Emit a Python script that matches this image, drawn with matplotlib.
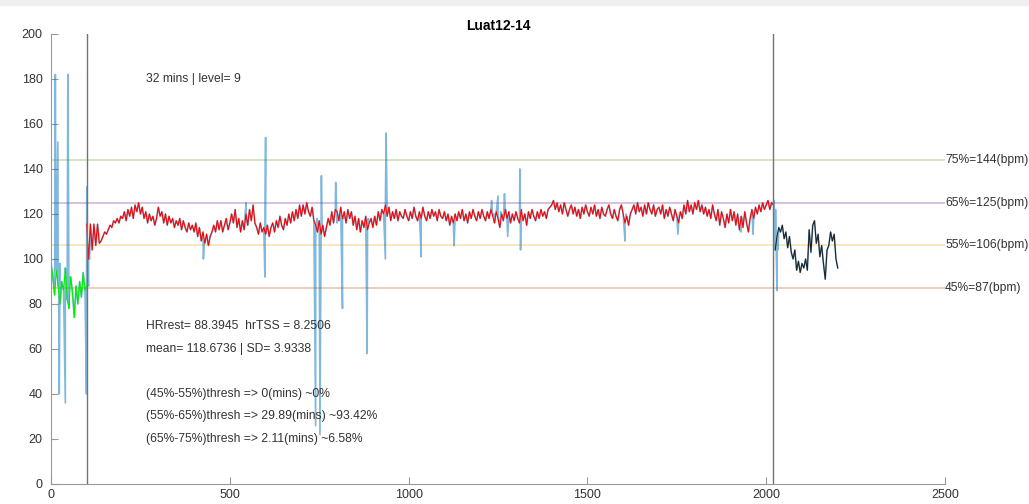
import numpy as np
import matplotlib
matplotlib.use("Agg")
import matplotlib.pyplot as plt

plt.rcParams["font.family"] = ["Liberation Sans", "DejaVu Sans"]

# heart rate per 5 s sample
warmup_t = np.arange(0, 101, 5)
warmup_hr = [98, 92, 84, 95, 88, 80, 90, 86, 96, 82, 78, 92, 85, 74, 88, 80, 90, 83, 94, 86, 88]

main_t = np.arange(100, 2021, 5)
main_hr = [
    115.5, 100, 115.5, 104, 115.5, 106, 115.5, 107, 108, 110, 112, 111, 113, 115, 114, 117, 116, 118, 116, 119,
    118, 121, 117, 122, 119, 123, 118, 124, 121, 125, 120, 123, 118, 121, 116, 120, 117, 119, 115, 118,
    123, 119, 121, 116, 120, 115, 119, 116, 118, 114, 117, 115, 118, 113, 117, 114, 112, 116, 113, 115,
    112, 116, 110, 114, 108, 112, 107, 111, 106, 110, 112, 115, 112, 117, 113, 117, 112, 115, 118, 113,
    116, 120, 116, 122, 114, 118, 112, 117, 113, 120, 115, 122, 117, 124, 116, 114, 111, 116, 112, 114,
    111, 115, 110, 114, 116, 112, 117, 114, 119, 115, 113, 118, 115, 120, 116, 121, 117, 122, 118, 124,
    119, 124, 120, 125, 121, 119, 123, 117, 115, 112, 117, 111, 115, 110, 114, 118, 115, 121, 116, 122,
    121, 117, 123, 118, 121, 116, 122, 118, 121, 115, 119, 113, 118, 112, 117, 114, 119, 113, 116, 118,
    114, 119, 115, 121, 117, 122, 120, 124, 119, 123, 117, 121, 118, 122, 117, 121, 119, 118, 122, 119,
    117, 121, 118, 123, 119, 117, 121, 118, 123, 119, 117, 121, 118, 122, 119, 121, 117, 122, 119, 118,
    121, 117, 120, 115, 119, 116, 120, 117, 121, 118, 122, 117, 120, 116, 121, 118, 122, 119, 117, 121,
    118, 122, 119, 117, 121, 118, 122, 119, 116, 121, 118, 114, 120, 117, 122, 118, 121, 116, 120, 117,
    121, 118, 116, 122, 117, 120, 115, 121, 118, 122, 119, 117, 121, 118, 122, 119, 121, 118, 122, 123,
    124, 126, 122, 125, 121, 124, 120, 125, 122, 119, 122, 124, 120, 123, 119, 122, 118, 123, 120, 124,
    121, 119, 123, 120, 124, 119, 122, 118, 123, 120, 119, 122, 124, 120, 118, 122, 119, 117, 122, 124,
    120, 116, 119, 115, 120, 122, 124, 120, 125, 121, 123, 119, 124, 120, 125, 122, 120, 124, 119, 122,
    123, 120, 124, 118, 122, 119, 123, 120, 117, 122, 119, 116, 121, 118, 124, 120, 126, 121, 124, 120,
    125, 122, 126, 121, 124, 120, 123, 119, 122, 118, 124, 120, 117, 122, 115, 121, 118, 114, 120, 116,
    122, 117, 121, 115, 120, 113, 119, 114, 121, 116, 112, 118, 122, 118, 123, 120, 124, 121, 125, 122,
    124, 126, 122, 125, 124,
]

cooldown_t = np.arange(2025, 2201, 5)
cooldown_hr = [104, 110, 114, 112, 115, 109, 112, 105, 110, 103, 100, 104, 95, 99, 94, 98, 96, 100,
               95, 113, 103, 115, 117, 107, 111, 101, 106, 98, 91, 104, 106, 112, 108, 111, 100, 96]

# raw sensor glitches that the filter removed
spike_t = [0, 12, 14, 19, 21, 23, 25, 40, 43, 47, 49, 51, 99, 100, 102, 105, 108,
           426, 429, 545, 547, 598, 600, 602, 740, 744, 752, 756, 758, 796, 800, 815, 818,
           884, 887, 935, 937, 940, 1035, 1038, 1127, 1130,
           1232, 1240, 1250, 1258, 1268, 1272, 1277, 1280, 1311, 1313, 1316,
           1605, 1608, 1753, 1756, 1930, 1933, 1963, 1966, 2022, 2026, 2030, 2033]
spike_hr = [0, 182, 100, 152, 98, 40, 98, 36, 90, 182, 126, 92, 40, 132, 95, 88, 100,
            100, 108, 125, 117, 92, 154, 114, 26, 118, 22, 137, 112, 134, 116, 78, 118,
            58, 118, 100, 156, 120, 101, 121, 106, 118,
            126, 120, 128, 121, 129, 122, 110, 119, 140, 104, 118,
            108, 120, 111, 119, 112, 118, 111, 120, 126, 122, 86, 104]

zone_pct = [45, 55, 65, 75]
zone_bpm = [87, 106, 125, 144]
zone_colors = [(0.85, 0.325, 0.098), (0.929, 0.694, 0.125), (0.494, 0.184, 0.556), (0.466, 0.674, 0.188)]

phase_marks = [100, 2019]

info_lines = [
    (180, "32 mins | level= 9"),
    (70, "HRrest= 88.3945  hrTSS = 8.2506"),
    (60, "mean= 118.6736 | SD= 3.9338"),
    (40, "(45%-55%)thresh => 0(mins) ~0%"),
    (30, "(55%-65%)thresh => 29.89(mins) ~93.42%"),
    (20, "(65%-75%)thresh => 2.11(mins) ~6.58%"),
]

# raw trace = all samples plus glitches, ordered by time
raw_t = np.concatenate([spike_t, warmup_t, main_t[1:], cooldown_t])
raw_hr = np.concatenate([spike_hr, warmup_hr, main_hr[1:], cooldown_hr])
order = np.argsort(raw_t, kind="stable")
raw_t, raw_hr = raw_t[order], raw_hr[order]

fig = plt.figure(figsize=(10.29, 5.04), dpi=100)
fig.patches.append(plt.Rectangle((0, 0.99), 1, 0.01, transform=fig.transFigure,
                                 color="#f0f0f0", zorder=0))
ax = fig.add_axes([0.0496, 0.0397, 0.8688, 0.8929])

for bpm, pct, c in zip(zone_bpm, zone_pct, zone_colors):
    ax.axhline(bpm, color=c, alpha=0.35, lw=1.2, zorder=1)
    ax.text(2500, bpm, "%d%%=%d(bpm)" % (pct, bpm), ha="left", va="center",
            fontsize=8.7, color="0.2", clip_on=False)

ax.plot(raw_t, raw_hr, color="#0072BD", alpha=0.5, lw=1.2, zorder=2)
ax.plot(warmup_t, warmup_hr, color="#00ee00", lw=0.8, zorder=3)
ax.plot(main_t, main_hr, color="#ff0000", lw=0.8, zorder=3)
ax.plot(cooldown_t, cooldown_hr, color="#222222", lw=0.8, zorder=3)

for xm in phase_marks:
    ax.axvline(xm, color="0.45", lw=1.0, zorder=4)

for y, s in info_lines:
    ax.text(265, y, s, fontsize=8.7, color="0.2", va="center")

ax.set_title("Luat12-14", fontsize=10, fontweight="bold", pad=3)
ax.set_xlim(0, 2500)
ax.set_ylim(0, 200)
ax.set_xticks(np.arange(0, 2501, 500))
ax.set_yticks(np.arange(0, 201, 20))
for side in ["top", "right"]:
    ax.spines[side].set_visible(False)
for side in ["left", "bottom"]:
    ax.spines[side].set_color("0.6")
ax.tick_params(direction="in", length=5, color="0.6", labelsize=9, labelcolor="0.2")
ax.tick_params(axis="y", pad=6)

fig.savefig("out.png", dpi=100)
